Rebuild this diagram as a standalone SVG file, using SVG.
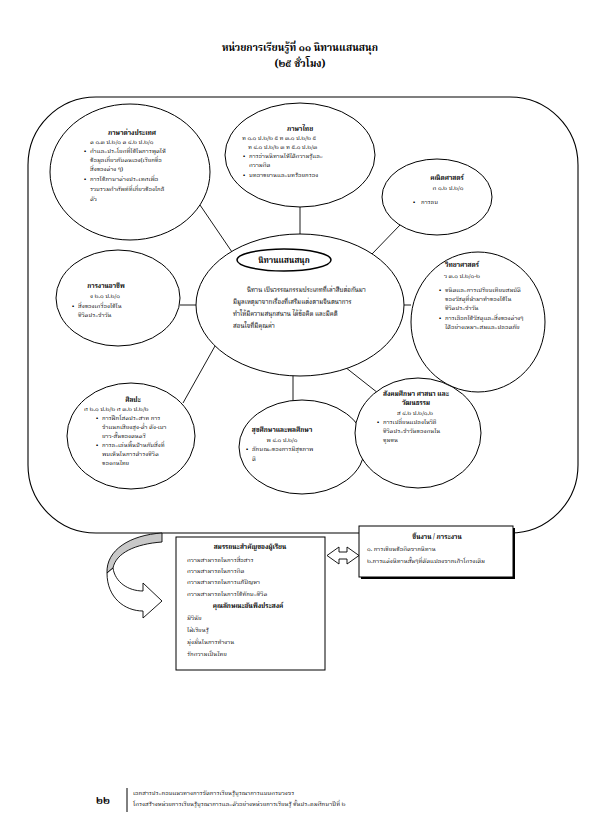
<svg xmlns="http://www.w3.org/2000/svg" width="595" height="836" viewBox="0 0 595 836">
<style>
text{font-family:"Noto Serif Thai","Noto Sans Thai","Loma","Garuda","Norasi","DejaVu Sans",sans-serif;font-size:6px;fill:#000}
.b{font-weight:bold;font-size:6.4px}
.c{text-anchor:middle}
.h{font-weight:bold;font-size:10px;text-anchor:middle}
.s{fill:#fff;stroke:#000;stroke-width:1}
.ln{stroke:#000;stroke-width:0.9;fill:none}
</style>
<rect width="595" height="836" fill="#fff"/>
<g id="title">
<text class="h" x="300" y="51">หน่วยการเรียนรู้ที่ ๑๑ นิทานแสนสนุก</text>
<text class="h" x="300" y="67">(๒๕ ชั่วโมง)</text>
</g>
<g id="frame"><rect x="28" y="97" width="550" height="436" rx="68" ry="68" fill="none" stroke="#000" stroke-width="1.1"/></g>
<g id="connectors">
<line class="ln" x1="200" y1="205" x2="232" y2="252"/>
<line class="ln" x1="300" y1="207" x2="300" y2="235"/>
<line class="ln" x1="400" y1="225" x2="372" y2="254"/>
<line class="ln" x1="180" y1="305" x2="197" y2="305"/>
<line class="ln" x1="403" y1="305" x2="411" y2="305"/>
<line class="ln" x1="183" y1="403" x2="215" y2="346"/>
<line class="ln" x1="293" y1="375" x2="293" y2="401"/>
<line class="ln" x1="345" y1="367" x2="378" y2="393"/>
</g>
<g id="n-foreign">
<ellipse class="s" cx="130" cy="172" rx="80" ry="68"/>
<text class="b c" x="132" y="135">ภาษาต่างประเทศ</text>
<text x="90" y="144">ต ๑.๓ ป.๒/๑ ต ๔.๒ ป.๒/๑</text>
<text x="84" y="153">•</text><text x="90" y="153">คำและประโยคที่ใช้ในการพูดให้</text>
<text x="90" y="162">ข้อมูลเกี่ยวกับตนเอง(เรียกชื่อ</text>
<text x="90" y="171">สิ่งของต่าง ๆ)</text>
<text x="84" y="181">•</text><text x="90" y="181">การใช้ภาษาต่างประเทศเพื่อ</text>
<text x="90" y="191">รวบรวมคำศัพท์ที่เกี่ยวข้องใกล้</text>
<text x="90" y="201">ตัว</text>
</g>
<g id="n-thai">
<ellipse class="s" cx="300" cy="155" rx="75" ry="52"/>
<text class="b c" x="300" y="131">ภาษาไทย</text>
<text x="242" y="140">ท ๑.๑ ป.๒/๒ ๕  ท ๓.๑ ป.๒/๒ ๕</text>
<text x="248" y="149">ท ๔.๑ ป.๒/๒ ๓ ท ๕.๑ ป.๒/๓</text>
<text x="243" y="158">•</text><text x="249" y="158">การอ่านนิทานให้ได้ความรู้และ</text>
<text x="249" y="167">ความคิด</text>
<text x="243" y="177">•</text><text x="249" y="177">บทอาขยานและบทร้อยกรอง</text>
</g>
<g id="n-math">
<ellipse class="s" cx="437" cy="197" rx="55" ry="38"/>
<text class="b c" x="447" y="180">คณิตศาสตร์</text>
<text class="c" x="448" y="190">ค ๑.๒ ป.๒/๑</text>
<text x="413" y="204">•</text><text x="421" y="204">การลบ</text>
</g>
<g id="n-center">
<ellipse class="s" cx="300" cy="305" rx="104" ry="71"/>
<ellipse cx="284" cy="260" rx="47" ry="11" fill="#fff" stroke="#000" stroke-width="1.5"/>
<text class="b c" x="284" y="263" style="font-size:8px">นิทานแสนสนุก</text>
<text x="247" y="292" style="font-size:6.2px">นิทาน เป็นวรรณกรรมประเภทที่เล่าสืบต่อกันมา</text>
<text x="233" y="304" style="font-size:6.2px">มีมูลเหตุมาจากเรื่องที่เสริมแต่งตามจินตนาการ</text>
<text x="233" y="316" style="font-size:6.2px">ทำให้มีความสนุกสนาน ได้ข้อคิด และมีคติ</text>
<text x="233" y="328" style="font-size:6.2px">สอนใจที่มีคุณค่า</text>
</g>
<g id="n-science">
<ellipse class="s" cx="478" cy="322" rx="67" ry="70"/>
<text class="b c" x="462" y="267">วิทยาศาสตร์</text>
<text class="c" x="462" y="278">ว ๓.๑ ป.๒/๑-๒</text>
<text x="439" y="292">•</text><text x="445" y="292">ชนิดและการเปรียบเทียบสมบัติ</text>
<text x="445" y="301">ของวัสดุที่นำมาทำของใช้ใน</text>
<text x="445" y="310">ชีวิตประจำวัน</text>
<text x="439" y="320">•</text><text x="445" y="320">การเลือกใช้วัสดุและสิ่งของต่างๆ</text>
<text x="445" y="329">ได้อย่างเหมาะสมและปลอดภัย</text>
</g>
<g id="n-career">
<ellipse class="s" cx="118" cy="298" rx="62" ry="48"/>
<text class="b c" x="106" y="288">การงานอาชีพ</text>
<text class="c" x="105" y="298">ง ๒.๑ ป.๒/๑</text>
<text x="72" y="308">•</text><text x="78" y="308">สิ่งของเครื่องใช้ใน</text>
<text x="78" y="317">ชีวิตประจำวัน</text>
</g>
<g id="n-art">
<ellipse class="s" cx="131" cy="436" rx="64" ry="53"/>
<text class="b c" x="133" y="402">ศิลปะ</text>
<text x="84" y="411">ศ ๒.๑ ป.๒/๒ ศ ๓.๒ ป.๒/๒</text>
<text x="96" y="420">•</text><text x="102" y="420">การฝึกโสตประสาท การ</text>
<text x="102" y="429">จำแนกเสียงสูง-ต่ำ ดัง-เบา</text>
<text x="102" y="438">ยาว-สั้นของดนตรี</text>
<text x="96" y="447">•</text><text x="102" y="447">การละเล่นพื้นบ้านกับสิ่งที่</text>
<text x="102" y="456">พบเห็นในการดำรงชีวิต</text>
<text x="102" y="465">ของคนไทย</text>
</g>
<g id="n-health">
<ellipse class="s" cx="302" cy="447" rx="63" ry="47"/>
<text class="b c" x="282" y="432">สุขศึกษาและพลศึกษา</text>
<text class="c" x="282" y="442">พ ๔.๑ ป.๒/๑</text>
<text x="246" y="451">•</text><text x="252" y="451">ลักษณะของการมีสุขภาพ</text>
<text x="252" y="461">ดี</text>
</g>
<g id="n-social">
<ellipse class="s" cx="418" cy="433" rx="63" ry="55"/>
<text class="b c" x="416" y="396">สังคมศึกษา ศาสนา และ</text>
<text class="b c" x="416" y="405">วัฒนธรรม</text>
<text class="c" x="415" y="415">ส ๔.๒ ป.๒/๑,๒</text>
<text x="377" y="424">•</text><text x="383" y="424">การเปลี่ยนแปลงในวิถี</text>
<text x="383" y="433">ชีวิตประจำวันของคนใน</text>
<text x="383" y="442">ชุมชน</text>
</g>
<g id="curved-arrow">
<path d="M162 533 C130 535 106 550 107 573 L113 568 C116 553 135 544 162 542 Z" fill="#c8c8c8" stroke="#000" stroke-width="0.9"/>
<path d="M107 573 C107 598 125 611 143 611 L143 618 L162 601 L143 583 L143 591 C128 591 115 582 113 568 Z" fill="#fff" stroke="#000" stroke-width="0.9"/>
</g>
<g id="n-competency">
<rect x="176" y="537" width="149" height="133" fill="#fff" stroke="#000" stroke-width="1"/>
<text class="b c" x="250" y="549">สมรรถนะสำคัญของผู้เรียน</text>
<text x="187" y="562">ความสามารถในการสื่อสาร</text>
<text x="187" y="573">ความสามารถในการคิด</text>
<text x="187" y="584">ความสามารถในการแก้ปัญหา</text>
<text x="187" y="596">ความสามารถในการใช้ทักษะชีวิต</text>
<text class="b c" x="248" y="608">คุณลักษณะอันพึงประสงค์</text>
<text x="187" y="620">มีวินัย</text>
<text x="187" y="632">ใฝ่เรียนรู้</text>
<text x="187" y="644">มุ่งมั่นในการทำงาน</text>
<text x="187" y="656">รักความเป็นไทย</text>
</g>
<g id="double-arrow">
<path d="M327 555.5 L339 547 L339 552 L347 552 L347 547 L359 555.5 L347 564 L347 559 L339 559 L339 564 Z" fill="#fff" stroke="#000" stroke-width="0.9"/>
</g>
<g id="n-tasks">
<rect x="361" y="528" width="154" height="51" fill="#000"/>
<rect x="359" y="526" width="154" height="51" fill="#fff" stroke="#000" stroke-width="1"/>
<text class="b c" x="437" y="539">ชิ้นงาน / ภาระงาน</text>
<text x="367" y="551">๑. การเขียนข้อคิดจากนิทาน</text>
<text x="367" y="563">๒.การแต่งนิทานสั้นๆที่ดัดแปลงจากเค้าโครงเดิม</text>
</g>
<g id="footer">
<text x="96" y="804" style="font-weight:bold;font-size:10px">๒๒</text>
<line x1="127" y1="788" x2="127" y2="812" stroke="#000" stroke-width="1"/>
<text x="133" y="795" style="font-size:6px">เอกสารประกอบแนวทางการจัดการเรียนรู้บูรณาการแบบครบวงจร</text>
<text x="133" y="806" style="font-size:6px">โครงสร้างหน่วยการเรียนรู้บูรณาการและตัวอย่างหน่วยการเรียนรู้ ชั้นประถมศึกษาปีที่ ๒</text>
</g>
</svg>
